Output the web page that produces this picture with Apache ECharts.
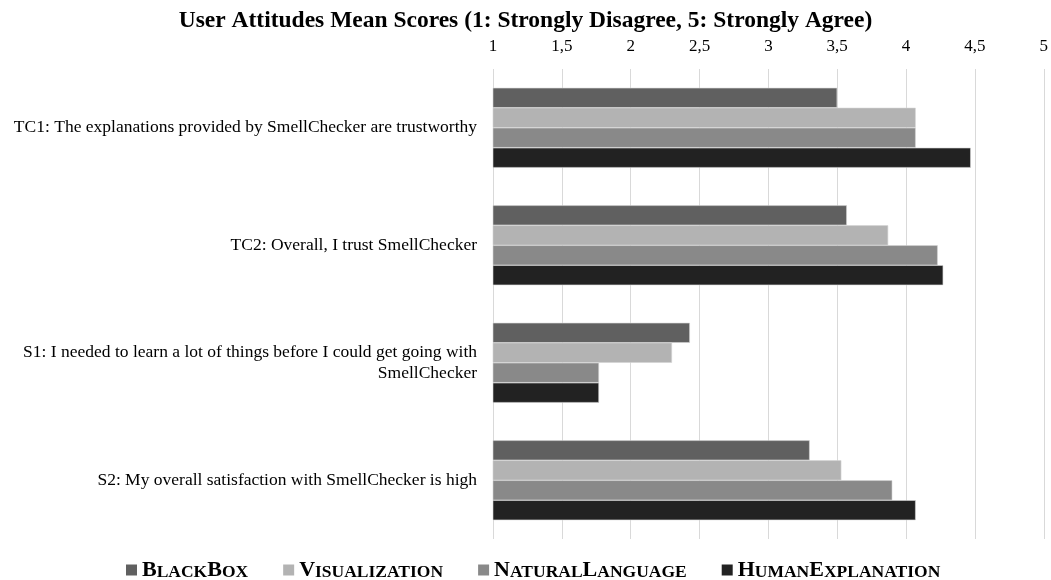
<!DOCTYPE html>
<html>
<head>
<meta charset="utf-8">
<script src="https://cdn.jsdelivr.net/npm/echarts@6/dist/echarts.min.js"></script>
<style>
  html, body { margin: 0; padding: 0; background: #fff; }
  #chart { width: 1051px; height: 580px; }
</style>
</head>
<body>
<div id="chart"></div>
<script>
// Survey statements (top to bottom)
const categories = [
  'TC1: The explanations provided by SmellChecker are trustworthy',
  'TC2: Overall, I trust SmellChecker',
  'S1: I needed to learn a lot of things before I could get going with\nSmellChecker',
  'S2: My overall satisfaction with SmellChecker is high'
];

// Mean scores per explanation condition
const blackBox = [3.5, 3.57, 2.43, 3.3];
const visualization = [4.07, 3.87, 2.3, 3.53];
const naturalLanguage = [4.07, 4.23, 1.77, 3.9];
const humanExplanation = [4.47, 4.27, 1.77, 4.07];

const seriesNames = ['BlackBox', 'Visualization', 'NaturalLanguage', 'HumanExplanation'];
const seriesData = [blackBox, visualization, naturalLanguage, humanExplanation];
const seriesColors = ['#606060', '#b3b3b3', '#898989', '#222222'];

const serif = '"Liberation Serif", "Times New Roman", serif';

const chart = echarts.init(document.getElementById('chart'));

// Small-caps look for legend names: initial capitals large, remaining letters small uppercase
function smallCaps(name) {
  return name.replace(/([A-Z])([a-z]+)/g, (m, a, b) => `{big|${a}}{small|${b.toUpperCase()}}`);
}

chart.setOption({
  animation: false,
  title: {
    text: 'User Attitudes Mean Scores (1: Strongly Disagree, 5: Strongly Agree)',
    left: 'center',
    top: 4,
    textStyle: { fontFamily: serif, fontSize: 23.5, fontWeight: 'bold', color: '#000' }
  },
  legend: {
    top: 554,
    left: 121,
    itemWidth: 11,
    itemHeight: 11,
    itemGap: 35,
    icon: 'rect',
    data: seriesNames,
    formatter: smallCaps,
    itemStyle: { borderWidth: 0 },
    textStyle: {
      fontFamily: serif,
      color: '#000',
      rich: {
        big: { fontFamily: serif, fontSize: 22, fontWeight: 'bold', color: '#000', verticalAlign: 'bottom', lineHeight: 22 },
        small: { fontFamily: serif, fontSize: 17.5, fontWeight: 'bold', color: '#000', verticalAlign: 'bottom', lineHeight: 22 }
      }
    }
  },
  grid: { left: 493, right: 4, top: 69, bottom: 41 },
  xAxis: {
    type: 'value',
    position: 'top',
    min: 1,
    max: 5,
    interval: 0.5,
    axisLine: { show: false },
    axisTick: { show: false },
    splitLine: { lineStyle: { color: '#d9d9d9', width: 1 } },
    axisLabel: {
      fontFamily: serif,
      fontSize: 17,
      color: '#000',
      margin: 14,
      formatter: v => String(v).replace('.', ',')
    }
  },
  yAxis: {
    type: 'category',
    inverse: true,
    data: categories,
    axisLine: { show: false },
    axisTick: { show: false },
    axisLabel: {
      fontFamily: serif,
      fontSize: 17.5,
      color: '#000',
      margin: 16,
      align: 'right',
      lineHeight: 21
    }
  },
  series: seriesNames.map((name, i) => ({
    name: name,
    type: 'bar',
    data: seriesData[i],
    barGap: '0%',
    barCategoryGap: '32%',
    itemStyle: { color: seriesColors[i], borderColor: '#d4d4d4', borderWidth: 0.6 }
  }))
});
</script>
</body>
</html>
